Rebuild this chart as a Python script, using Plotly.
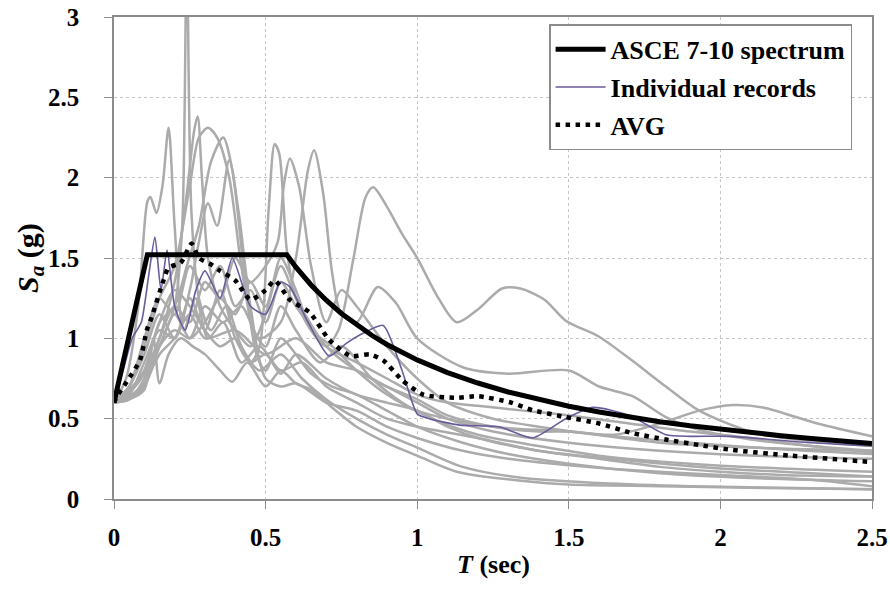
import plotly.graph_objects as go

# ---------------- data ----------------
X_TICKS = [0, 0.5, 1, 1.5, 2, 2.5]
X_TICK_LABELS = ["0", "0.5", "1", "1.5", "2", "2.5"]
Y_TICKS = [0, 0.5, 1, 1.5, 2, 2.5, 3]
Y_TICK_LABELS = ["0", "0.5", "1", "1.5", "2", "2.5", "3"]

# ASCE 7-10 design spectrum
T_ASCE = [0, 0.11, 0.57, 0.6, 0.65, 0.7, 0.75, 0.8, 0.85, 0.9, 0.95, 1.0, 1.1, 1.2,
          1.3, 1.4, 1.5, 1.6, 1.7, 1.8, 1.9, 2.0, 2.1, 2.2, 2.3, 2.4, 2.5]
SA_ASCE = [0.60, 1.52, 1.52, 1.443, 1.332, 1.237, 1.155, 1.083, 1.019, 0.962, 0.912,
           0.866, 0.787, 0.722, 0.666, 0.619, 0.577, 0.541, 0.509, 0.481, 0.456,
           0.433, 0.412, 0.394, 0.377, 0.361, 0.346]

# Average of records
T_AVG = [0, 0.01, 0.042, 0.086, 0.108, 0.124, 0.163, 0.18, 0.22, 0.256, 0.28, 0.32,
         0.35, 0.4, 0.45, 0.5, 0.53, 0.58, 0.646, 0.71, 0.78, 0.845, 0.89, 0.95,
         1.02, 1.13, 1.2, 1.31, 1.38, 1.49, 1.6, 1.71, 1.82, 1.93, 2.04, 2.23, 2.5]
SA_AVG = [0.6, 0.64, 0.73, 0.865, 1.05, 1.13, 1.36, 1.44, 1.47, 1.59, 1.5, 1.46,
          1.42, 1.36, 1.24, 1.3, 1.36, 1.24, 1.16, 0.99, 0.89, 0.9, 0.86, 0.74,
          0.65, 0.63, 0.64, 0.6, 0.553, 0.51, 0.47, 0.41, 0.37, 0.336, 0.305, 0.27, 0.23]

# Highlighted individual record (purple)
T_P01 = [0, 0.03, 0.06, 0.09, 0.115, 0.135, 0.155, 0.175, 0.2, 0.235, 0.27, 0.3, 0.35,
         0.39, 0.45, 0.5, 0.55, 0.58, 0.64, 0.71, 0.767, 0.82, 0.888, 0.95, 1.0, 1.04,
         1.14, 1.27, 1.38, 1.49, 1.58, 1.7, 1.82, 1.9, 2.03, 2.3, 2.5]
SA_P01 = [0.6, 0.8, 1.0, 1.1, 1.4, 1.63, 1.3, 1.55, 1.2, 1.05, 1.3, 1.42, 1.25,
          1.5, 1.2, 1.15, 1.35, 1.32, 1.1, 0.89, 0.97, 1.03, 1.08, 0.8, 0.53, 0.5,
          0.46, 0.45, 0.38, 0.5, 0.57, 0.52, 0.4, 0.39, 0.39, 0.35, 0.33]

# Other individual records (grey)
T_G01 = [0, 0.05, 0.1, 0.15, 0.2, 0.225, 0.24, 0.255, 0.28, 0.32, 0.37, 0.42, 0.48,
         0.55, 0.62, 0.7, 0.8, 0.9, 1.0, 1.15, 1.35, 1.6, 1.9, 2.2, 2.5]
SA_G01 = [0.6, 0.62, 0.7, 0.95, 1.2, 1.7, 3.4, 1.8, 1.25, 1.05, 1.2, 0.95, 0.8,
          0.9, 0.75, 0.62, 0.5, 0.4, 0.32, 0.2, 0.13, 0.1, 0.08, 0.07, 0.06]

T_G02 = [0, 0.04, 0.08, 0.11, 0.12, 0.14, 0.16, 0.18, 0.2, 0.23, 0.27, 0.31, 0.36,
         0.42, 0.48, 0.55, 0.62, 0.7, 0.8, 0.9, 1.0, 1.2, 1.4, 1.7, 2.0, 2.3, 2.5]
SA_G02 = [0.6, 0.75, 1.2, 1.85, 1.88, 1.78, 1.95, 2.31, 1.7, 1.05, 1.25, 1.0, 1.1,
          0.85, 0.95, 0.8, 0.85, 0.7, 0.6, 0.5, 0.45, 0.38, 0.3, 0.24, 0.19, 0.16, 0.14]

T_G03 = [0, 0.05, 0.1, 0.15, 0.2, 0.24, 0.265, 0.276, 0.29, 0.31, 0.35, 0.4, 0.45,
         0.5, 0.55, 0.6, 0.7, 0.8, 0.9, 1.0, 1.1, 1.25, 1.5, 1.8, 2.1, 2.5]
SA_G03 = [0.6, 0.62, 0.75, 1.0, 1.35, 1.9, 2.3, 2.38, 2.0, 1.5, 1.2, 1.05, 0.95,
          1.15, 1.45, 1.25, 0.95, 0.8, 0.7, 0.6, 0.5, 0.42, 0.35, 0.3, 0.27, 0.25]

T_G04 = [0, 0.05, 0.1, 0.15, 0.2, 0.25, 0.28, 0.31, 0.34, 0.38, 0.42, 0.46, 0.5,
         0.55, 0.6, 0.68, 0.75, 0.85, 0.95, 1.05, 1.2, 1.4, 1.6, 1.9, 2.2, 2.5]
SA_G04 = [0.6, 0.7, 0.95, 1.25, 1.45, 1.95, 2.25, 2.31, 2.25, 2.0, 1.45, 1.05, 0.95,
          1.2, 1.05, 0.85, 0.95, 0.75, 0.6, 0.5, 0.4, 0.33, 0.27, 0.22, 0.19, 0.17]

T_G05 = [0, 0.05, 0.1, 0.15, 0.2, 0.24, 0.28, 0.32, 0.36, 0.39, 0.43, 0.47, 0.5,
         0.55, 0.6, 0.65, 0.72, 0.8, 0.9, 1.0, 1.15, 1.3, 1.5, 1.8, 2.1, 2.5]
SA_G05 = [0.6, 0.68, 0.8, 1.1, 1.2, 1.45, 1.7, 2.1, 2.25, 2.05, 1.4, 0.9, 0.8,
          1.0, 0.9, 0.78, 0.7, 0.65, 0.55, 0.45, 0.35, 0.28, 0.22, 0.16, 0.13, 0.11]

T_G06 = [0, 0.05, 0.1, 0.15, 0.2, 0.25, 0.28, 0.31, 0.34, 0.38, 0.41, 0.45, 0.5,
         0.55, 0.6, 0.7, 0.8, 0.9, 1.0, 1.15, 1.3, 1.5, 1.7, 2.0, 2.3, 2.5]
SA_G06 = [0.6, 0.65, 0.85, 1.05, 1.0, 1.3, 1.6, 1.84, 1.7, 2.11, 1.8, 1.2, 0.75,
          0.7, 0.72, 0.6, 0.55, 0.45, 0.38, 0.3, 0.25, 0.21, 0.18, 0.15, 0.12, 0.08]

T_G07 = [0, 0.05, 0.1, 0.15, 0.2, 0.25, 0.3, 0.35, 0.4, 0.45, 0.48, 0.51, 0.53,
         0.545, 0.57, 0.6, 0.65, 0.72, 0.8, 0.9, 1.0, 1.15, 1.3, 1.5, 1.8, 2.1, 2.5]
SA_G07 = [0.6, 0.7, 0.9, 1.15, 1.0, 1.25, 1.05, 1.3, 1.0, 0.85, 0.95, 1.8, 2.21,
          2.15, 1.55, 1.25, 1.05, 0.95, 0.8, 0.65, 0.55, 0.48, 0.44, 0.42, 0.35, 0.32, 0.30]

T_G08 = [0, 0.05, 0.1, 0.15, 0.2, 0.25, 0.3, 0.35, 0.4, 0.45, 0.5, 0.54, 0.56, 0.58,
         0.61, 0.65, 0.7, 0.75, 0.8, 0.9, 1.0, 1.1, 1.25, 1.4, 1.6, 1.9, 2.2, 2.5]
SA_G08 = [0.6, 0.66, 0.78, 1.0, 1.2, 1.1, 1.35, 1.25, 1.5, 1.35, 1.45, 1.6, 1.95, 2.12,
          1.95, 1.45, 1.1, 1.3, 1.2, 0.95, 0.75, 0.6, 0.5, 0.45, 0.4, 0.35, 0.31, 0.28]

T_G09 = [0, 0.05, 0.1, 0.15, 0.2, 0.25, 0.3, 0.36, 0.42, 0.48, 0.55, 0.6, 0.64, 0.66,
         0.69, 0.72, 0.75, 0.8, 0.87, 0.93, 1.0, 1.15, 1.3, 1.5, 1.6, 1.71, 1.82,
         1.93, 2.1, 2.3, 2.5]
SA_G09 = [0.6, 0.64, 0.72, 0.95, 1.05, 1.0, 1.2, 1.1, 1.2, 1.0, 1.1, 1.5, 2.05, 2.17,
          1.9, 1.4, 1.15, 1.1, 1.32, 1.22, 1.0, 0.82, 0.78, 0.8, 0.7, 0.64, 0.51,
          0.43, 0.37, 0.33, 0.3]

T_G10 = [0, 0.05, 0.1, 0.15, 0.2, 0.25, 0.3, 0.35, 0.4, 0.45, 0.5, 0.55, 0.6, 0.65,
         0.7, 0.74, 0.79, 0.83, 0.855, 0.9, 0.95, 1.0, 1.07, 1.13, 1.2, 1.28, 1.34,
         1.42, 1.49, 1.6, 1.71, 1.82, 1.93, 2.1, 2.25, 2.5]
SA_G10 = [0.6, 0.68, 0.78, 0.95, 1.15, 1.0, 1.1, 1.25, 1.15, 1.35, 1.2, 1.5, 1.3, 1.05,
          0.95, 1.05, 1.5, 1.88, 1.94, 1.82, 1.65, 1.5, 1.25, 1.1, 1.18, 1.31, 1.31,
          1.24, 1.11, 1.01, 0.86, 0.7, 0.55, 0.42, 0.37, 0.33]

T_G11 = [0, 0.05, 0.1, 0.15, 0.2, 0.25, 0.3, 0.4, 0.5, 0.6, 0.7, 0.8, 0.9, 1.0, 1.1,
         1.25, 1.4, 1.5, 1.65, 1.8, 1.93, 2.04, 2.14, 2.32, 2.5]
SA_G11 = [0.6, 0.63, 0.72, 0.9, 1.0, 1.15, 1.0, 1.05, 0.9, 1.0, 0.85, 0.8, 0.7, 0.62,
          0.52, 0.45, 0.42, 0.42, 0.4, 0.47, 0.55, 0.585, 0.57, 0.47, 0.39]

T_G12 = [0, 0.05, 0.1, 0.13, 0.15, 0.18, 0.22, 0.26, 0.3, 0.35, 0.39, 0.44, 0.5, 0.55,
         0.6, 0.65, 0.7, 0.8, 0.9, 1.0, 1.13, 1.36, 1.5, 1.8, 2.1, 2.5]
SA_G12 = [0.6, 0.62, 0.68, 1.0, 0.72, 0.9, 1.0, 0.95, 0.9, 0.8, 0.73, 0.85, 0.7, 0.8,
          0.72, 0.68, 0.6, 0.45, 0.35, 0.27, 0.17, 0.11, 0.09, 0.08, 0.07, 0.06]

T_G13 = [0, 0.05, 0.1, 0.15, 0.2, 0.25, 0.3, 0.35, 0.4, 0.45, 0.5, 0.55, 0.6, 0.7,
         0.8, 0.9, 1.0, 1.1, 1.2, 1.4, 1.6, 1.8, 2.0, 2.2, 2.5]
SA_G13 = [0.6, 0.66, 0.8, 1.1, 1.3, 1.2, 1.05, 0.95, 1.0, 0.85, 0.9, 0.78, 0.9, 0.75,
          0.65, 0.6, 0.55, 0.45, 0.38, 0.3, 0.25, 0.2, 0.17, 0.15, 0.14]

T_G14 = [0, 0.05, 0.1, 0.15, 0.2, 0.25, 0.3, 0.35, 0.4, 0.45, 0.5, 0.55, 0.6, 0.7,
         0.8, 0.9, 1.0, 1.1, 1.2, 1.35, 1.5, 1.7, 1.9, 2.1, 2.3, 2.5]
SA_G14 = [0.6, 0.7, 1.0, 1.25, 1.15, 1.45, 1.3, 1.45, 1.2, 1.3, 1.1, 1.35, 1.2, 0.95,
          0.85, 0.75, 0.65, 0.6, 0.58, 0.55, 0.52, 0.47, 0.42, 0.38, 0.33, 0.29]

GREY_RECORDS = [
    (T_G01, SA_G01), (T_G02, SA_G02), (T_G03, SA_G03), (T_G04, SA_G04),
    (T_G05, SA_G05), (T_G06, SA_G06), (T_G07, SA_G07), (T_G08, SA_G08),
    (T_G09, SA_G09), (T_G10, SA_G10), (T_G11, SA_G11), (T_G12, SA_G12),
    (T_G13, SA_G13), (T_G14, SA_G14),
]

X_TITLE = "<b><i>T</i> (sec)</b>"
Y_TITLE = "<b><i>S<sub>a</sub></i> (g)</b>"

# ---------------- figure ----------------
FONT = "Liberation Serif"
GREY = "#ababab"
PURPLE = "#6b5b9b"

fig = go.Figure()

for t, sa in GREY_RECORDS:
    fig.add_trace(go.Scatter(
        x=t, y=sa, mode="lines", showlegend=False, hoverinfo="skip",
        line=dict(color=GREY, width=2.5, shape="spline", smoothing=0.8)))

fig.add_trace(go.Scatter(
    x=T_P01, y=SA_P01, mode="lines", name="Individual records",
    legendgroup="b", legendrank=2,
    line=dict(color=PURPLE, width=1.6, shape="spline", smoothing=0.6)))

fig.add_trace(go.Scatter(
    x=T_ASCE, y=SA_ASCE, mode="lines", name="ASCE 7-10 spectrum",
    legendgroup="a", legendrank=1,
    line=dict(color="black", width=5)))

fig.add_trace(go.Scatter(
    x=T_AVG, y=SA_AVG, mode="lines", name="AVG",
    legendgroup="c", legendrank=3,
    line=dict(color="black", width=4.5, dash="4.5px,5.5px", shape="spline", smoothing=0.6)))

axis_common = dict(
    showline=True, linecolor="#8c8c8c", linewidth=1.5, mirror=True,
    showgrid=True, gridcolor="#c4c4c4", gridwidth=1, griddash="3px,3px",
    ticks="outside", ticklen=8, tickcolor="#8c8c8c", tickwidth=1,
    zeroline=False, automargin=False,
    tickfont=dict(family=FONT, size=25, color="black", weight="bold"),
)

fig.update_xaxes(
    range=[0, 2.5], tickvals=X_TICKS, ticktext=X_TICK_LABELS,
    ticklabelstandoff=7,
    **axis_common)
fig.update_yaxes(
    range=[0, 3], tickvals=Y_TICKS, ticktext=Y_TICK_LABELS,
    ticklabelstandoff=20,
    **axis_common)

fig.add_annotation(
    text=X_TITLE, xref="paper", yref="paper", x=0.5, y=0,
    xanchor="center", yanchor="middle", yshift=-65, showarrow=False,
    font=dict(family=FONT, size=26, color="black"))
fig.add_annotation(
    text=Y_TITLE, xref="paper", yref="paper", x=0, y=0.5,
    xanchor="center", yanchor="middle", xshift=-84, textangle=-90, showarrow=False,
    font=dict(family=FONT, size=30, color="black"))

fig.update_layout(
    width=890, height=591,
    margin=dict(l=114, r=18, t=17, b=92),
    paper_bgcolor="white", plot_bgcolor="white",
    font=dict(family=FONT, color="black"),
    legend=dict(
        x=0.574, y=0.985, xanchor="left", yanchor="top",
        bgcolor="white", bordercolor="#8c8c8c", borderwidth=1.5,
        font=dict(family=FONT, size=26, color="black", weight="bold"),
        itemwidth=50, tracegroupgap=1, traceorder="grouped",
    ),
)

# remove the default 8px page margin so the figure sits at the window origin
fig.write_html("out.html", config={"displayModeBar": False},
               post_script="document.body.style.margin='0px';")
